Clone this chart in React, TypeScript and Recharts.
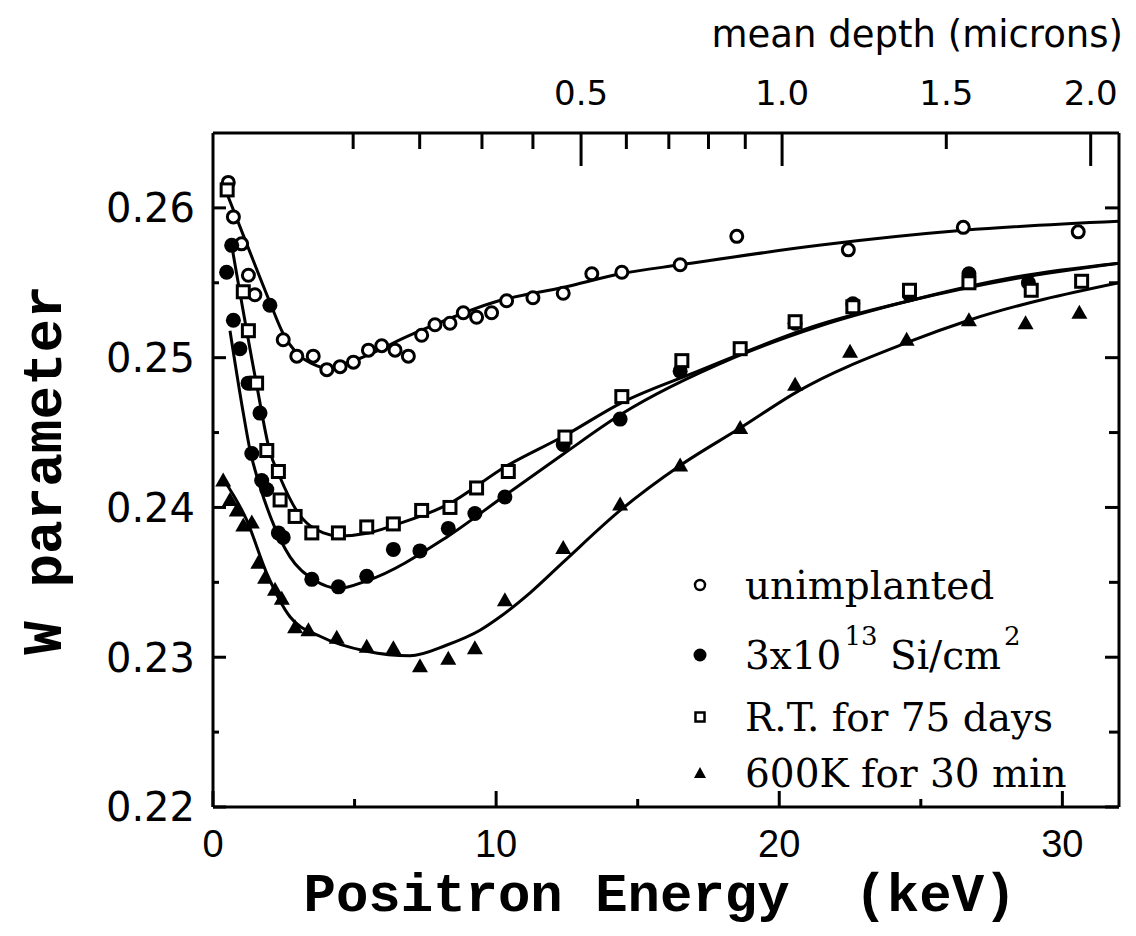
import React from 'react';
import { ComposedChart, Scatter, Line, XAxis, YAxis, Legend, Label } from 'recharts';

// ---------- axis ticks ----------
const energyTicks = [0, 5, 10, 15, 20, 25, 30];
const energyTickLabels = ['0', '', '10', '', '20', '', '30'];
const wTicks = [0.22, 0.225, 0.23, 0.235, 0.24, 0.245, 0.25, 0.255, 0.26];
const wTickLabels = ['0.22', '', '0.23', '', '0.24', '', '0.25', '', '0.26'];
// top axis: positron energy (keV) at which each mean-depth tick sits
const depthTickEnergies = [4.95, 7.3, 9.5, 11.3, 13.0, 14.6, 16.1, 17.5, 18.8, 20.1, 25.9, 31.0];
const depthTickLabels = ['', '', '', '', '0.5', '', '', '', '', '1.0', '1.5', '2.0'];
const depthLongTicks = ['0.5', '1.0', '2.0'];

// ---------- measured points ----------
const unimplantedE = [0.54, 0.72, 1.01, 1.25, 1.48, 2.48, 2.96, 3.54, 4.02, 4.49, 4.96, 5.49, 5.96, 6.43, 6.9, 7.37, 7.84, 8.37, 8.84, 9.31, 9.84, 10.37, 11.3, 12.37, 13.38, 14.44, 16.5, 18.5, 22.44, 26.5, 30.56];
const unimplantedW = [0.2617, 0.2594, 0.2576, 0.2555, 0.2542, 0.2512, 0.2501, 0.2501, 0.2492, 0.2494, 0.2497, 0.2505, 0.2508, 0.2505, 0.2501, 0.2515, 0.2522, 0.2523, 0.253, 0.2527, 0.253, 0.2538, 0.254, 0.2543, 0.2556, 0.2557, 0.2562, 0.2581, 0.2572, 0.2587, 0.2584];

const siE = [0.48, 0.66, 0.72, 0.95, 1.24, 1.66, 1.37, 1.72, 1.9, 2.01, 2.31, 2.48, 3.49, 4.43, 5.43, 6.37, 7.31, 8.31, 9.25, 10.31, 12.37, 14.38, 16.5, 20.56, 22.6, 24.6, 26.7, 28.8];
const siW = [0.2557, 0.2575, 0.2525, 0.2506, 0.2483, 0.2463, 0.2436, 0.2418, 0.2412, 0.2535, 0.2383, 0.238, 0.2352, 0.2347, 0.2354, 0.2372, 0.2371, 0.2386, 0.2396, 0.2407, 0.2442, 0.2459, 0.2491, 0.2523, 0.2536, 0.2542, 0.2556, 0.255];

const rtE = [0.5, 1.07, 1.25, 1.54, 1.9, 2.31, 2.37, 2.9, 3.49, 4.43, 5.43, 6.37, 7.37, 8.37, 9.31, 10.43, 12.43, 14.44, 16.56, 18.62, 20.56, 22.6, 24.6, 26.7, 28.9, 30.68];
const rtW = [0.2612, 0.2544, 0.2518, 0.2483, 0.2438, 0.2424, 0.2405, 0.2394, 0.2383, 0.2383, 0.2387, 0.2389, 0.2398, 0.24, 0.2413, 0.2424, 0.2447, 0.2474, 0.2498, 0.2506, 0.2524, 0.2534, 0.2545, 0.255, 0.2545, 0.2551];

const annealE = [0.36, 0.6, 0.84, 1.07, 1.37, 1.6, 1.84, 2.19, 2.43, 2.9, 3.37, 4.37, 5.43, 6.37, 7.31, 8.31, 9.25, 10.31, 12.37, 14.38, 16.5, 18.62, 20.56, 22.5, 24.5, 26.7, 28.7, 30.6];
const annealW = [0.2418, 0.2405, 0.2398, 0.2388, 0.239, 0.2363, 0.2353, 0.2345, 0.2339, 0.232, 0.2318, 0.2313, 0.2307, 0.2306, 0.2294, 0.2299, 0.2306, 0.2338, 0.2373, 0.2402, 0.2428, 0.2453, 0.2482, 0.2504, 0.2512, 0.2525, 0.2523, 0.253];

// ---------- fitted curves ----------
const unimplantedFitE = [0.36, 1.19, 2.01, 2.48, 2.96, 3.5, 4.02, 4.96, 7.08, 10.1, 12.4, 14.4, 16.5, 21.4, 26.5, 32.0];
const unimplantedFitW = [0.2616, 0.2576, 0.2537, 0.2516, 0.2503, 0.2496, 0.2493, 0.2498, 0.2516, 0.2538, 0.2547, 0.2556, 0.2562, 0.2575, 0.2585, 0.2591];

const siFitE = [0.6, 1.07, 1.31, 1.66, 2.13, 2.72, 3.54, 4.43, 5.43, 8.24, 10.31, 12.4, 14.4, 18.4, 21.4, 24.6, 28.4, 32.0];
const siFitW = [0.2518, 0.2463, 0.2438, 0.2414, 0.2389, 0.2367, 0.2352, 0.2346, 0.2351, 0.238, 0.2408, 0.2436, 0.2462, 0.25, 0.2521, 0.2538, 0.2554, 0.2563];

const rtFitE = [0.66, 1.54, 2.0, 2.37, 2.95, 3.9, 4.43, 5.5, 6.37, 8.3, 10.31, 12.43, 14.44, 17.0, 21.4, 24.6, 28.4, 32.0];
const rtFitW = [0.2575, 0.2482, 0.2438, 0.242, 0.2398, 0.2383, 0.2381, 0.2383, 0.2388, 0.2402, 0.2427, 0.2448, 0.247, 0.249, 0.2522, 0.2538, 0.2553, 0.2563];

const annealFitE = [0.36, 1.18, 1.9, 2.72, 3.78, 5.43, 6.96, 8.24, 9.43, 10.14, 11.2, 12.4, 14.38, 16.5, 18.62, 20.7, 24.5, 26.7, 32.0];
const annealFitW = [0.2419, 0.2392, 0.2356, 0.2327, 0.2314, 0.2304, 0.2301, 0.2308, 0.2318, 0.2327, 0.2343, 0.2364, 0.2398, 0.2428, 0.2453, 0.2478, 0.251, 0.2525, 0.255];

const legendLabels = ['unimplanted', '3x10|13| Si/cm|2', 'R.T. for 75 days', '600K for 30 min'];

const zip = (e: number[], w: number[]) => e.map((E, i) => ({ E, W: w[i] }));

const unimplantedPts = zip(unimplantedE, unimplantedW);
const siPts = zip(siE, siW);
const rtPts = zip(rtE, rtW);
const annealPts = zip(annealE, annealW);
const unimplantedFit = zip(unimplantedFitE, unimplantedFitW);
const siFit = zip(siFitE, siFitW);
const rtFit = zip(rtFitE, rtFitW);
const annealFit = zip(annealFitE, annealFitW);

// ---------- markers ----------
const OpenCircle = (p: any) => <circle cx={p.cx} cy={p.cy} r={6} fill="#fff" stroke="#000" strokeWidth={3} />;
const FilledCircle = (p: any) => <circle cx={p.cx} cy={p.cy} r={7.5} fill="#000" />;
const OpenSquare = (p: any) => <rect x={p.cx - 6} y={p.cy - 6} width={12} height={12} fill="#fff" stroke="#000" strokeWidth={3} />;
const Triangle = (p: any) => (
  <polygon points={`${p.cx},${p.cy - 8} ${p.cx + 8},${p.cy + 6} ${p.cx - 8},${p.cy + 6}`} fill="#000" />
);

// ---------- ticks ----------
const BottomTick = (p: any) => {
  const { x, y, payload } = p;
  const label = energyTickLabels[energyTicks.indexOf(payload.value)] || '';
  const len = label ? 16 : 8;
  return (
    <g>
      <line x1={x} x2={x} y1={y} y2={y - len} stroke="#000" strokeWidth={3} />
      {label && (
        <text x={x} y={y + 50} textAnchor="middle" fontFamily='"Liberation Sans Narrow", "Liberation Sans", sans-serif' fontSize={38} fill="#000">
          {label}
        </text>
      )}
    </g>
  );
};

const LeftTick = (p: any) => {
  const { x, y, payload } = p;
  const label = wTickLabels[wTicks.indexOf(payload.value)] || '';
  const len = label ? 13 : 6;
  return (
    <g>
      <line x1={x} x2={x + len} y1={y} y2={y} stroke="#000" strokeWidth={3} />
      {label && (
        <text x={x - 18} y={y} dy="0.36em" textAnchor="end" fontFamily='"DejaVu Sans", sans-serif' fontSize={40} fill="#000">
          {label}
        </text>
      )}
    </g>
  );
};

const RightTick = (p: any) => {
  const { x, y, payload } = p;
  const label = wTickLabels[wTicks.indexOf(payload.value)] || '';
  const len = label ? 14 : 10;
  return <line x1={x} x2={x - len} y1={y} y2={y} stroke="#000" strokeWidth={3} />;
};

const TopTick = (p: any) => {
  const { x, y, payload } = p;
  const label = depthTickLabels[depthTickEnergies.indexOf(payload.value)] || '';
  const len = depthLongTicks.includes(label) ? 33 : 16;
  return (
    <g>
      <line x1={x} x2={x} y1={y} y2={y + len} stroke="#000" strokeWidth={3} />
      {label && (
        <text x={x} y={y - 28} textAnchor="middle" fontFamily='"DejaVu Sans", sans-serif' fontSize={34} fill="#000">
          {label}
        </text>
      )}
    </g>
  );
};

// ---------- legend ----------
const LegendMarker = ({ kind }: { kind: number }) => (
  <svg width={24} height={24}>
    {kind === 0 && <circle cx={12} cy={12} r={5} fill="#fff" stroke="#000" strokeWidth={2.5} />}
    {kind === 1 && <circle cx={12} cy={12} r={6.5} fill="#000" />}
    {kind === 2 && <rect x={7.5} y={7.5} width={9} height={9} fill="#fff" stroke="#000" strokeWidth={2.5} />}
    {kind === 3 && <polygon points="12,6 18,17 6,17" fill="#000" />}
  </svg>
);

const renderLabel = (text: string) => {
  const parts = text.split('|');
  return parts.map((s, i) =>
    i % 2 === 1 ? (
      <span key={i} style={{ fontSize: 26, position: 'relative', top: -24, marginLeft: 3 }}>{s}</span>
    ) : (
      <span key={i}>{s}</span>
    )
  );
};

const rowTops = [0, 70, 132, 188];
const renderLegend = () => (
  <div style={{ position: 'relative', width: 440, height: 260, fontFamily: '"DejaVu Serif", serif', fontSize: 39, color: '#000' }}>
    {legendLabels.map((lab, i) => (
      <div key={i} style={{ position: 'absolute', left: 0, top: rowTops[i], height: 56, display: 'flex', alignItems: 'center', whiteSpace: 'pre' }}>
        <span style={{ width: 24, display: 'inline-flex', justifyContent: 'center' }}>
          <LegendMarker kind={i} />
        </span>
        <span style={{ marginLeft: 33 }}>{renderLabel(lab)}</span>
      </div>
    ))}
  </div>
);

export default function App() {
  const lineProps = {
    xAxisId: 'bottom',
    yAxisId: 'left',
    dataKey: 'W',
    type: 'monotone' as const,
    stroke: '#000',
    strokeWidth: 3,
    dot: false,
    activeDot: false,
    isAnimationActive: false,
    legendType: 'none' as const,
  };
  const scatterProps = { xAxisId: 'bottom', yAxisId: 'left', dataKey: 'W', isAnimationActive: false };
  return (
    <div style={{ width: 1120, height: 920, position: 'relative' }}>
      <ComposedChart width={1120} height={920} margin={{ top: 65, right: 5, bottom: 61, left: 105 }}>
        <XAxis
          xAxisId="bottom"
          dataKey="E"
          type="number"
          orientation="bottom"
          domain={[0, 32]}
          allowDataOverflow
          ticks={energyTicks}
          interval={0}
          tickSize={0}
          tickMargin={0}
          tickLine={false}
          tick={BottomTick}
          axisLine={{ stroke: '#000', strokeWidth: 3 }}
          height={60}
        >
          <Label
            content={(props: any) => {
              const vb = props.viewBox;
              return (
                <text x={vb.x + vb.width / 2 - 6} y={vb.y + 104} textAnchor="middle" fontFamily='"Liberation Mono", monospace' fontWeight="bold" fontSize={54} fill="#000" style={{ whiteSpace: 'pre' }}>
                  {'Positron Energy  (keV)'}
                </text>
              );
            }}
          />
        </XAxis>
        <XAxis
          xAxisId="top"
          dataKey="E"
          type="number"
          orientation="top"
          domain={[0, 32]}
          allowDataOverflow
          ticks={depthTickEnergies}
          interval={0}
          tickSize={0}
          tickMargin={0}
          tickLine={false}
          tick={TopTick}
          axisLine={{ stroke: '#000', strokeWidth: 3 }}
          height={60}
        >
          <Label
            content={(props: any) => {
              const vb = props.viewBox;
              return (
                <text x={vb.x + vb.width + 4} y={vb.y - 26} textAnchor="end" fontFamily='"DejaVu Sans", sans-serif' fontSize={37} fill="#000">
                  mean depth (microns)
                </text>
              );
            }}
          />
        </XAxis>
        <YAxis
          yAxisId="left"
          type="number"
          orientation="left"
          domain={[0.22, 0.265]}
          allowDataOverflow
          ticks={wTicks}
          interval={0}
          tickSize={0}
          tickMargin={0}
          tickLine={false}
          tick={LeftTick}
          axisLine={{ stroke: '#000', strokeWidth: 3 }}
          width={100}
        >
          <Label
            content={(props: any) => {
              const vb = props.viewBox;
              const cx = vb.x - 72;
              const cy = vb.y + vb.height / 2;
              return (
                <text x={cx} y={cy} dy="0.36em" textAnchor="middle" transform={`rotate(-90, ${cx}, ${cy})`} fontFamily='"Liberation Mono", monospace' fontWeight="bold" fontSize={56} fill="#000">
                  W parameter
                </text>
              );
            }}
          />
        </YAxis>
        <YAxis
          yAxisId="right"
          type="number"
          orientation="right"
          domain={[0.22, 0.265]}
          allowDataOverflow
          ticks={wTicks}
          interval={0}
          tickSize={0}
          tickMargin={0}
          tickLine={false}
          tick={RightTick}
          axisLine={{ stroke: '#000', strokeWidth: 3 }}
          width={4}
        />
        {/* invisible series bound to the top/right axes so that they are laid out */}
        <Line xAxisId="top" yAxisId="right" dataKey="W" data={unimplantedFit} stroke="none" dot={false} activeDot={false} isAnimationActive={false} legendType="none" />
        <Line {...lineProps} data={unimplantedFit} />
        <Line {...lineProps} data={siFit} />
        <Line {...lineProps} data={rtFit} />
        <Line {...lineProps} data={annealFit} />
        <Scatter {...scatterProps} name="unimplanted" data={unimplantedPts} shape={OpenCircle} />
        <Scatter {...scatterProps} name="3x10^13 Si/cm^2" data={siPts} shape={FilledCircle} />
        <Scatter {...scatterProps} name="R.T. for 75 days" data={rtPts} shape={OpenSquare} />
        <Scatter {...scatterProps} name="600K for 30 min" data={annealPts} shape={Triangle} />
        <Legend
          layout="vertical"
          align="center"
          verticalAlign="middle"
          content={renderLegend}
          wrapperStyle={{ left: 680, top: 549, width: 440 }}
        />
      </ComposedChart>
    </div>
  );
}
